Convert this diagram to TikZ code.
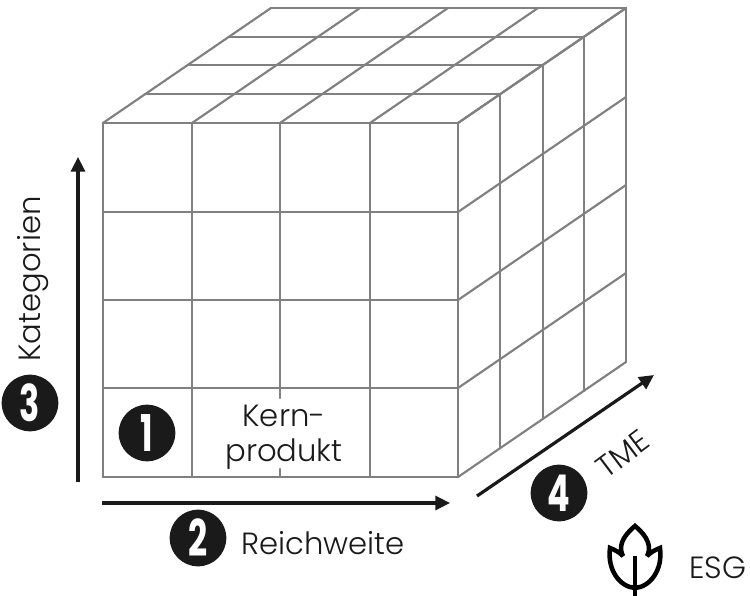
\documentclass[tikz,border=0pt]{standalone}
\usepackage{fontspec}
\setmainfont{Poppins}[UprightFont=* Light,BoldFont=* Bold]
\usetikzlibrary{arrows.meta}
\definecolor{gridc}{HTML}{808080}
\definecolor{inkc}{HTML}{1A1A1A}
\newcommand{\lbl}{\fontsize{23}{26.2}\selectfont}
\newcommand{\cnum}[1]{\scalebox{.66}[1]{\fontsize{38}{38}\selectfont\bfseries #1}}
\tikzset{
 gridl/.style={draw=gridc,line width=1.6pt,line cap=round,line join=round},
 axisl/.style={draw=inkc,line width=2.4pt,-{Triangle[length=11pt,width=10.5pt]}},
 badge/.style={circle,fill=inkc,text=white,minimum size=42.5pt,inner sep=0pt},
 lab/.style={text=inkc,inner sep=0pt,font=\lbl}
}
\begin{document}
\begin{tikzpicture}[x=0.75pt,y=-0.75pt]
\useasboundingbox (0,0) rectangle (750,596);
\fill[white] (0,0) rectangle (750,596);
% top face
\foreach \ox/\oy in {0/0,42/-29,85/-58,126/-86,168/-115}{
  \draw[gridl] ({103+\ox},{123+\oy}) -- ({458+\ox},{123+\oy});
}
\foreach \x in {103,192,280,370,458}{
  \draw[gridl] (\x,123) -- ({\x+168},8);
}
% front face
\foreach \y in {123,212,300,388,477}{
  \draw[gridl] (103,\y) -- (458,\y);
  \draw[gridl] (458,\y) -- (626,{\y-115});
}
\foreach \x in {103,192,370,458}{
  \draw[gridl] (\x,123) -- (\x,477);
}
\draw[gridl] (280,123) -- (280,398);
\draw[gridl] (280,469) -- (280,477);
% right face
\foreach \ox/\oy in {42/-29,85/-58,126/-86,168/-115}{
  \draw[gridl] ({458+\ox},{123+\oy}) -- ({458+\ox},{477+\oy});
}
% axes
\coordinate (a3s) at (78,482); \coordinate (a3e) at (78,157);
\coordinate (a2s) at (102,503); \coordinate (a2e) at (450,503);
\coordinate (a4s) at (477,496); \coordinate (a4e) at (654,375);
\draw[axisl] (a3s) -- (a3e);
\draw[axisl] (a2s) -- (a2e);
\draw[axisl] (a4s) -- (a4e);
% text
\node[lab,align=center] (kern) at (284,437) {Kern-\\produkt};
\node[lab,rotate=90] (kat) at (33,279) {Kategorien};
\node[lab] (reich) at (323,543) {Reichweite};
\node[lab,rotate=37] (tme) at (623,454) {TME};
\node[lab] (esg) at (718,568) {ESG};
% badges
\node[badge] (b1) at (147,433) {\cnum{1}};
\node[badge] (b2) at (198,538) {\cnum{2}};
\node[badge] (b3) at (30,403) {\cnum{3}};
\node[badge] (b4) at (559,493) {\cnum{4}};
% leaf icon
\draw[draw=black,line width=3.4pt,line join=miter,miter limit=3]
  (635,526) .. controls (629,531) and (616,543) .. (623,556)
  .. controls (619,552) and (615,550) .. (610,548)
  .. controls (607,570) and (620,587) .. (635,588)
  .. controls (650,587) and (663,570) .. (660,548)
  .. controls (655,550) and (651,552) .. (647,556)
  .. controls (654,543) and (641,531) .. cycle;
\draw[draw=black,line width=3.4pt] (635,556) -- (635,596);
\end{tikzpicture}
\end{document}
